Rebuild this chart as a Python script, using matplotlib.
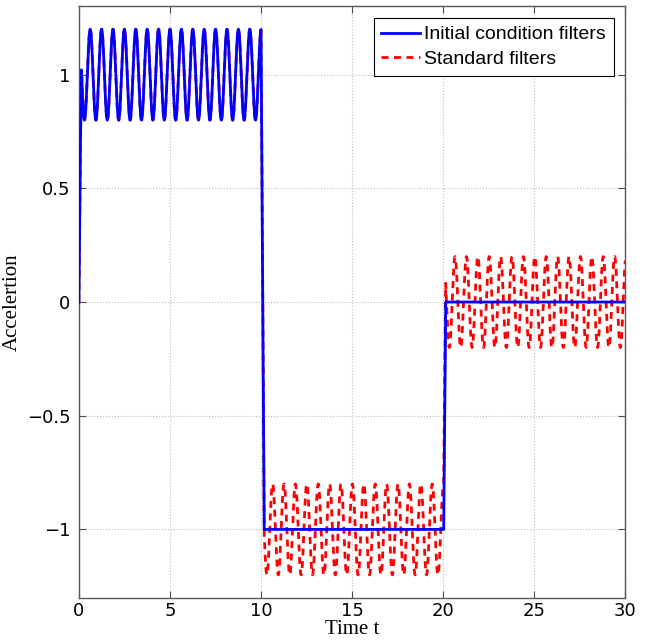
import numpy as np
import matplotlib
matplotlib.use("Agg")
import matplotlib.pyplot as plt

# values
seg_edges = [0, 10, 20, 30]            # time at which each level starts / ends
ramp_start = [0.0, 10.0, 20.03]        # where each level change begins
ramp_end = [0.14, 10.17, 20.14]        # where it is reached
levels = [1.0, -1.0, 0.0]              # step levels of the command
blue_amp = [0.2, 0.0, 0.0]             # ripple left by initial condition filters
red_amp = [0.2, 0.2, 0.2]              # ripple left by standard filters
ripple_period = 0.626                  # one ripple period, from peak spacing
first_peak = 0.62                      # time of first ripple peak

x_ticks = [0, 5, 10, 15, 20, 25, 30]
y_ticks = [-1, -0.5, 0, 0.5, 1]
y_tick_labels = ["\u22121", "\u22120.5", "0", "0.5", "1"]


def stepped(t, values):
    # piecewise constant value with short linear ramps between segments
    out = np.zeros_like(t)
    prev = 0.0
    for i, v in enumerate(values):
        frac = np.clip((t - ramp_start[i]) / (ramp_end[i] - ramp_start[i]), 0, 1)
        out = np.where(t >= ramp_start[i], prev + (v - prev) * frac, out)
        prev = v
    return out


t = np.arange(0, seg_edges[-1] + 1e-9, 0.004)
ripple = np.cos(2 * np.pi / ripple_period * (t - first_peak))
base = stepped(t, levels)
blue = base + stepped(t, blue_amp) * ripple
red = base + stepped(t, red_amp) * ripple

fig = plt.figure(figsize=(6.52, 6.44), dpi=100)
ax = fig.add_axes([0.121, 0.072, 0.838, 0.918])

ax.plot(t, red, color="#ff0000", lw=2.0, dashes=(2.5, 2.0), zorder=2,
        label="Standard filters")
ax.plot(t, blue, color="#0000ff", lw=2.0, zorder=3,
        label="Initial condition filters")

ax.set_xlim(0, 30)
ax.set_ylim(-1.3, 1.3)
ax.set_xticks(x_ticks)
ax.set_yticks(y_ticks)
ax.set_yticklabels(y_tick_labels)
ax.tick_params(direction="in", top=True, right=True, length=5,
               labelsize=13, color="0.3")
ax.tick_params(axis="x", pad=3)
ax.tick_params(axis="y", pad=6)
for s in ax.spines.values():
    s.set_color("0.35")
    s.set_linewidth(1.0)
ax.grid(True, linestyle=":", color="0.75", linewidth=0.8)

ax.set_xlabel("Time t", family="Liberation Serif", fontsize=15, labelpad=0)
ax.set_ylabel("Accelertion", family="Liberation Serif", fontsize=15, labelpad=4)

h, l = ax.get_legend_handles_labels()
leg = ax.legend(h[::-1], l[::-1], loc="upper right",
                prop={"family": "Liberation Sans", "size": 14},
                fancybox=False, framealpha=1, edgecolor="black",
                handlelength=2.0, handletextpad=0.2, borderpad=0.4,
                labelspacing=0.35, borderaxespad=0.6)
leg.get_frame().set_linewidth(0.8)

fig.savefig("out.png", dpi=100)
